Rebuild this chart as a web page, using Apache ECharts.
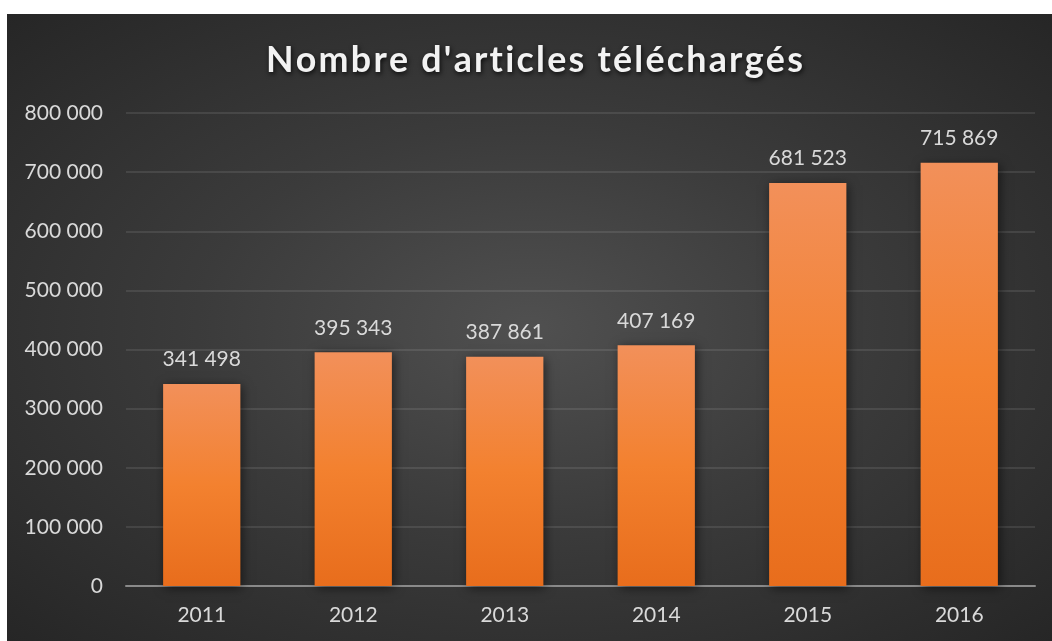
<!DOCTYPE html>
<html><head><meta charset="utf-8">
<script src="https://cdn.jsdelivr.net/npm/echarts@6/dist/echarts.min.js"></script>
<style>
html,body{margin:0;padding:0;background:#fff;}
#bg{position:absolute;left:7px;top:14px;width:1045px;height:627px;
background:radial-gradient(ellipse at 50% 50%, #505050 0%, #3b3b3b 45%, #262626 100%);}
#c{position:absolute;left:0;top:0;width:1052px;height:641px;}
</style></head>
<body><div id="bg"></div><div id="c"></div>
<script>
const categories = ['2011','2012','2013','2014','2015','2016'];
const values = [341498, 395343, 387861, 407169, 681523, 715869];
const yTicks = [0,100000,200000,300000,400000,500000,600000,700000,800000];
const titleText = "Nombre d'articles téléchargés";

function fmt(v){ return String(v).replace(/\B(?=(\d{3})+(?!\d))/g,' '); }

const chart = echarts.init(document.getElementById('c'));
chart.setOption({
  backgroundColor: 'transparent',
  animation: false,
  title: {
    text: titleText.split('').join('\u200A'),
    left: 261, top: 37,
    textStyle: {
      fontFamily: 'Lato', fontWeight: 'bold', fontSize: 35.8, color: '#f2f2f2',
      textShadowColor: 'rgba(0,0,0,0.8)', textShadowBlur: 5, textShadowOffsetX: 1, textShadowOffsetY: 2
    }
  },
  grid: { left: 126, right: 17, top: 113, bottom: 55, containLabel: false },
  xAxis: {
    type: 'category', data: categories,
    axisLine: { lineStyle: { color: '#8a8a8a', width: 2 } },
    axisTick: { show: false },
    axisLabel: { color: '#d9d9d9', fontFamily: 'Lato', fontSize: 21, margin: 19 }
  },
  yAxis: {
    type: 'value', min: yTicks[0], max: yTicks[yTicks.length-1], interval: 100000,
    axisLine: { show: false }, axisTick: { show: false },
    splitLine: { lineStyle: { color: 'rgba(255,255,255,0.13)', width: 1.5 } },
    axisLabel: { color: '#d9d9d9', fontFamily: 'Lato', fontSize: 21, margin: 23, formatter: fmt }
  },
  series: [{
    type: 'bar', data: values, barWidth: '51%', z: 1,
    itemStyle: {
      color: new echarts.graphic.LinearGradient(0,0,0,1,[
        {offset:0,color:'#f2905a'},{offset:0.5,color:'#f3812f'},{offset:1,color:'#e86d1c'}
      ]),
      shadowColor: 'rgba(0,0,0,0.55)', shadowBlur: 10, shadowOffsetX: 2, shadowOffsetY: 2
    },
    label: {
      show: true, position: 'top', distance: 14, color: '#d9d9d9',
      fontFamily: 'Lato', fontSize: 21,
      formatter: p => fmt(p.value)
    }
  }]
});
</script></body></html>
